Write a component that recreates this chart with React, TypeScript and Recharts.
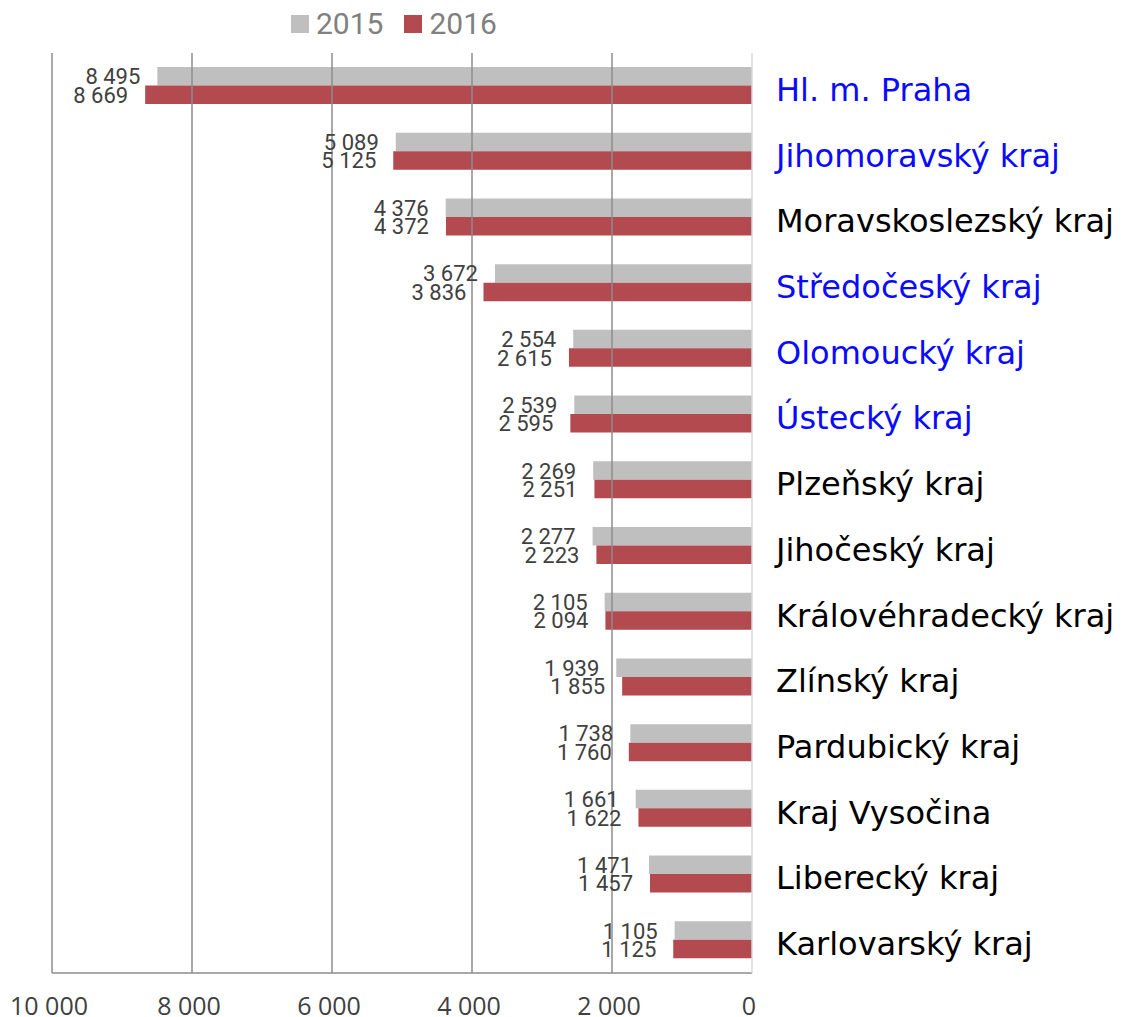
import { BarChart, Bar, XAxis, YAxis, ReferenceLine, LabelList } from 'recharts'

const regions = [
  'Hl. m. Praha',
  'Jihomoravský kraj',
  'Moravskoslezský kraj',
  'Středočeský kraj',
  'Olomoucký kraj',
  'Ústecký kraj',
  'Plzeňský kraj',
  'Jihočeský kraj',
  'Královéhradecký kraj',
  'Zlínský kraj',
  'Pardubický kraj',
  'Kraj Vysočina',
  'Liberecký kraj',
  'Karlovarský kraj',
]
const highlighted = ['Hl. m. Praha', 'Jihomoravský kraj', 'Středočeský kraj', 'Olomoucký kraj', 'Ústecký kraj']
const values2015 = [8495, 5089, 4376, 3672, 2554, 2539, 2269, 2277, 2105, 1939, 1738, 1661, 1471, 1105]
const values2016 = [8669, 5125, 4372, 3836, 2615, 2595, 2251, 2223, 2094, 1855, 1760, 1622, 1457, 1125]
const xTicks = [0, 2000, 4000, 6000, 8000, 10000]

const series = [
  { key: 'y2015', name: '2015', color: '#bfbfbf' },
  { key: 'y2016', name: '2016', color: '#b24a50' },
]

const data = regions.map((r, i) => ({ region: r, y2015: values2015[i], y2016: values2016[i] }))

const fmt = (v: number) => String(v).replace(/\B(?=(\d{3})+(?!\d))/g, ' ')

function RegionTick(props: { x?: number; y?: number; payload?: { value: string } }) {
  const { x = 0, y = 0, payload } = props
  const name = payload?.value ?? ''
  return (
    <text
      x={x + 16}
      y={y + 15}
      fontSize={32}
      fontFamily="'DejaVu Sans', sans-serif"
      fill={highlighted.includes(name) ? '#0a0aff' : '#000000'}
    >
      {name}
    </text>
  )
}

function ValueLabel(props: { x?: number; y?: number; width?: number; height?: number; value?: number }) {
  const { x = 0, y = 0, width = 0, height = 0, value } = props
  const left = Math.min(Number(x), Number(x) + Number(width))
  return (
    <text
      x={left - 17}
      y={Number(y) + Number(height) / 2 + 8}
      textAnchor="end"
      fontSize={22}
      fontFamily="Roboto, sans-serif"
      fill="#404040"
    >
      {fmt(Number(value))}
    </text>
  )
}

export default function App() {
  return (
    <div style={{ position: 'absolute', left: 0, top: 0, width: 1124, height: 1017 }}>
      <div
        style={{
          position: 'absolute', left: 291, top: 6, display: 'flex', alignItems: 'center',
          fontFamily: 'Roboto, sans-serif', fontSize: 30, color: '#808080',
        }}
      >
        {series.map((s) => (
          <div key={s.key} style={{ display: 'flex', alignItems: 'center', marginRight: 21 }}>
            <span style={{ width: 18, height: 18, background: s.color, marginRight: 7, display: 'inline-block' }} />
            <span>{s.name}</span>
          </div>
        ))}
      </div>
      <BarChart
        width={1124}
        height={1017}
        data={data}
        layout="vertical"
        margin={{ top: 53, right: 0, bottom: 0, left: 52 }}
        barGap={0}
        barSize={18.5}
      >
        {xTicks.filter((t) => t > 0).map((t) => (
          <ReferenceLine key={t} x={t} stroke="#8c8c8c" strokeWidth={1.5} />
        ))}
        <XAxis
          type="number"
          domain={[0, 10000]}
          ticks={xTicks}
          reversed
          height={44}
          tickFormatter={fmt}
          tick={{ fontSize: 25, fill: '#404040', fontFamily: "'Open Sans', sans-serif", dy: 16, dx: -3 }}
          tickLine={false}
          axisLine={{ stroke: '#8c8c8c', strokeWidth: 1.5 }}
          interval={0}
        />
        <YAxis
          type="category"
          dataKey="region"
          orientation="right"
          width={372}
          tick={<RegionTick />}
          tickLine={false}
          axisLine={{ stroke: '#d9d9d9', strokeWidth: 1.5 }}
          interval={0}
        />
        {series.map((s) => (
          <Bar key={s.key} dataKey={s.key} name={s.name} fill={s.color} isAnimationActive={false}>
            <LabelList dataKey={s.key} content={<ValueLabel />} />
          </Bar>
        ))}
      </BarChart>
    </div>
  )
}
